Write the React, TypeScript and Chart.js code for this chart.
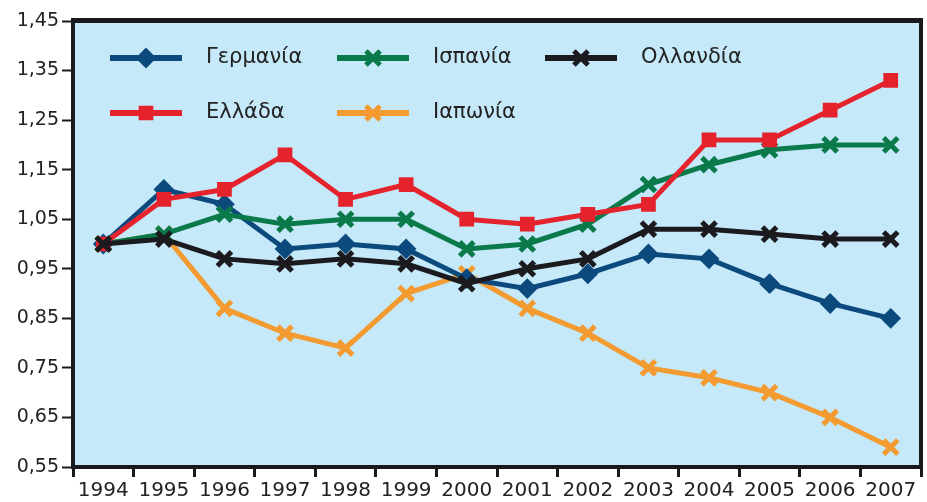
import React, { useEffect, useRef } from "react";
import { Chart, registerables } from "chart.js";

Chart.register(...registerables);

const YEARS = ["1994", "1995", "1996", "1997", "1998", "1999", "2000", "2001", "2002", "2003", "2004", "2005", "2006", "2007"];
const GERMANY = [1.0, 1.11, 1.08, 0.99, 1.0, 0.99, 0.93, 0.91, 0.94, 0.98, 0.97, 0.92, 0.88, 0.85];
const SPAIN = [1.0, 1.02, 1.06, 1.04, 1.05, 1.05, 0.99, 1.0, 1.04, 1.12, 1.16, 1.19, 1.2, 1.2];
const NETHERLANDS = [1.0, 1.01, 0.97, 0.96, 0.97, 0.96, 0.92, 0.95, 0.97, 1.03, 1.03, 1.02, 1.01, 1.01];
const GREECE = [1.0, 1.09, 1.11, 1.18, 1.09, 1.12, 1.05, 1.04, 1.06, 1.08, 1.21, 1.21, 1.27, 1.33];
const JAPAN = [1.0, 1.02, 0.87, 0.82, 0.79, 0.9, 0.94, 0.87, 0.82, 0.75, 0.73, 0.7, 0.65, 0.59];
const Y_TICKS = [0.55, 0.65, 0.75, 0.85, 0.95, 1.05, 1.15, 1.25, 1.35, 1.45];

const SERIES_NAMES = ["Γερμανία", "Ισπανία", "Ολλανδία", "Ελλάδα", "Ιαπωνία"];
const SERIES_COLORS = ["#0c4a7e", "#0b7a4b", "#1b1b1f", "#e5232c", "#f39a30"];
const SERIES_STYLES = ["rectRot", "crossRot", "crossRot", "rect", "crossRot"];
const SERIES_DATA = [GERMANY, SPAIN, NETHERLANDS, GREECE, JAPAN];
const SERIES_ORDER = [3, 2, 0, 1, 4];

const BG = "#c6e9f9";
const FONT = "'DejaVu Sans', sans-serif";

function markerRadius(style: string) {
  if (style === "rect") return 9;
  if (style === "rectRot") return 9;
  return 10;
}
function markerBorder(style: string) {
  return style === "crossRot" ? 5 : 2;
}

function drawMarker(ctx: CanvasRenderingContext2D, style: string, x: number, y: number, r: number, color: string, bw: number) {
  ctx.save();
  ctx.fillStyle = color;
  ctx.strokeStyle = color;
  ctx.lineWidth = bw;
  ctx.beginPath();
  if (style === "rect") {
    const s = r * Math.SQRT1_2;
    ctx.rect(x - s, y - s, 2 * s, 2 * s);
    ctx.fill();
    ctx.stroke();
  } else if (style === "rectRot") {
    ctx.moveTo(x, y - r);
    ctx.lineTo(x + r, y);
    ctx.lineTo(x, y + r);
    ctx.lineTo(x - r, y);
    ctx.closePath();
    ctx.fill();
    ctx.stroke();
  } else {
    const d = r * Math.SQRT1_2;
    ctx.moveTo(x - d, y - d);
    ctx.lineTo(x + d, y + d);
    ctx.moveTo(x + d, y - d);
    ctx.lineTo(x - d, y + d);
    ctx.stroke();
  }
  ctx.restore();
}

const framePlugin = {
  id: "frame",
  beforeDatasetsDraw(chart: any) {
    const { ctx, chartArea: a } = chart;
    ctx.save();
    ctx.fillStyle = BG;
    ctx.fillRect(a.left, a.top, a.right - a.left, a.bottom - a.top);
    ctx.restore();
  },
  afterDraw(chart: any) {
    const { ctx, chartArea: a } = chart;
    ctx.save();
    ctx.fillStyle = "#1a1a1e";
    ctx.fillRect(a.left - 2, a.top - 3, a.right - a.left + 4, 5);
    ctx.fillRect(a.left - 2, a.top - 3, 4, a.bottom - a.top + 5);
    ctx.fillRect(a.right - 2, a.top - 3, 4, a.bottom - a.top + 5);
    ctx.fillRect(a.left - 2, a.bottom - 2, a.right - a.left + 4, 4);
    ctx.restore();
  },
};

const LEGEND_LAYOUT = [
  [0, 0, 0],
  [1, 0, 1],
  [2, 0, 2],
  [3, 1, 0],
  [4, 1, 1],
];

const legendPlugin = {
  id: "insideLegend",
  afterDraw(chart: any) {
    const { ctx, chartArea: a } = chart;
    const colX = [37, 264, 472];
    const rowY = [37, 92];
    ctx.save();
    LEGEND_LAYOUT.forEach(([idx, row, col]) => {
      const x = a.left + colX[col];
      const y = a.top + rowY[row];
      const color = SERIES_COLORS[idx];
      ctx.strokeStyle = color;
      ctx.lineWidth = 6;
      ctx.beginPath();
      ctx.moveTo(x, y);
      ctx.lineTo(x + 72, y);
      ctx.stroke();
      const st = SERIES_STYLES[idx];
      drawMarker(ctx, st, x + 36, y, markerRadius(st), color, markerBorder(st));
      ctx.fillStyle = "#222";
      ctx.font = `21px ${FONT}`;
      ctx.textAlign = "left";
      ctx.textBaseline = "middle";
      ctx.fillText(chart.data.datasets[idx].label, x + 96, y);
    });
    ctx.restore();
  },
};

export default function App() {
  const ref = useRef<HTMLCanvasElement | null>(null);
  useEffect(() => {
    document.body.style.margin = "0";
    const canvas = ref.current!;
    const chart = new Chart(canvas, {
      type: "line",
      data: {
        labels: YEARS,
        datasets: SERIES_DATA.map((d, i) => ({
          label: SERIES_NAMES[i],
          data: d,
          borderColor: SERIES_COLORS[i],
          backgroundColor: SERIES_COLORS[i],
          borderWidth: 5,
          pointStyle: SERIES_STYLES[i] as any,
          pointRadius: markerRadius(SERIES_STYLES[i]),
          pointBorderWidth: markerBorder(SERIES_STYLES[i]),
          pointBackgroundColor: SERIES_COLORS[i],
          pointBorderColor: SERIES_COLORS[i],
          tension: 0,
          order: SERIES_ORDER[i],
        })),
      },
      options: {
        responsive: false,
        animation: false,
        devicePixelRatio: 1,
        layout: { autoPadding: false, padding: { top: 21, right: 6, left: 0, bottom: 0 } },
        plugins: { legend: { display: false }, tooltip: { enabled: false } },
        scales: {
          x: {
            type: "category",
            offset: true,
            border: { display: false },
            grid: {
              offset: true,
              drawOnChartArea: false,
              drawTicks: true,
              tickLength: 10,
              tickWidth: 3,
              tickColor: "#1a1a1e",
            },
            ticks: {
              color: "#222",
              font: { family: FONT, size: 20 },
              padding: 2,
              maxRotation: 0,
              autoSkip: false,
            },
            afterFit(scale: any) {
              scale.height = 35;
              scale.paddingLeft = 0;
              scale.paddingRight = 0;
            },
          },
          y: {
            min: 0.55,
            max: 1.45,
            border: { display: false },
            grid: {
              drawOnChartArea: false,
              drawTicks: true,
              tickLength: 11,
              tickWidth: 2,
              tickColor: "#1a1a1e",
            },
            afterBuildTicks(scale: any) {
              scale.ticks = Y_TICKS.map((v) => ({ value: v }));
            },
            ticks: {
              color: "#222",
              font: { family: FONT, size: 19 },
              padding: 3,
              callback: (v: any) => Number(v).toFixed(2).replace(".", ","),
            },
            afterFit(scale: any) {
              scale.width = 73;
              scale.paddingTop = 0;
              scale.paddingBottom = 0;
            },
          },
        },
      },
      plugins: [framePlugin, legendPlugin],
    });
    return () => chart.destroy();
  }, []);
  return (
    <div style={{ width: 927, height: 502 }}>
      <canvas ref={ref} width={927} height={502} style={{ display: "block" }} />
    </div>
  );
}
